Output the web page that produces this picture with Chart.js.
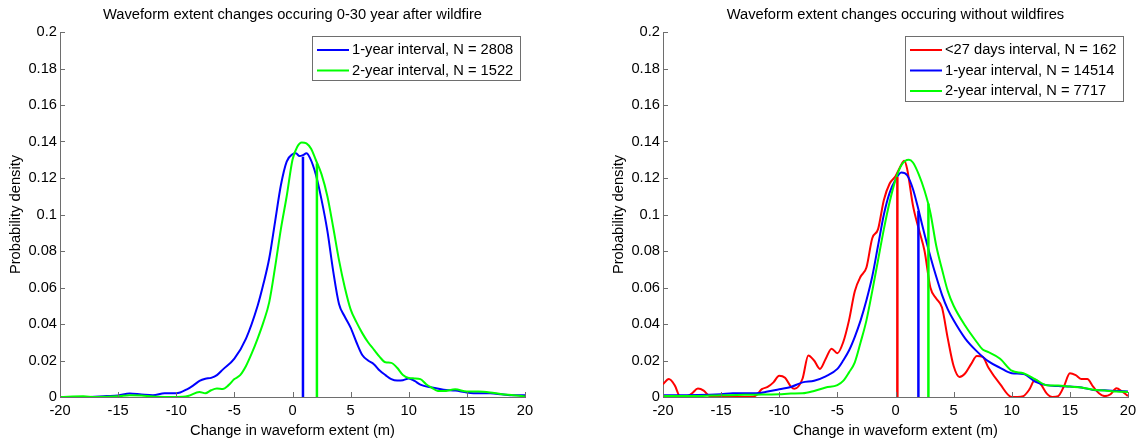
<!DOCTYPE html>
<html>
<head>
<meta charset="utf-8">
<script src="https://cdn.jsdelivr.net/npm/chart.js@4.4.1/dist/chart.umd.min.js"></script>
<style>
body { margin: 0; background: #fff; width: 1142px; height: 441px; overflow: hidden; position: relative; }
canvas { position: absolute; top: 0; }
#left { left: 0; }
#right { left: 603px; }
</style>
</head>
<body>
<canvas id="left" width="590" height="441"></canvas>
<canvas id="right" width="539" height="441"></canvas>
<script>
// axis ticks
var xTicks = [-20, -15, -10, -5, 0, 5, 10, 15, 20];
var yTicks = [0, 0.02, 0.04, 0.06, 0.08, 0.1, 0.12, 0.14, 0.16, 0.18, 0.2];

// left panel: after wildfire
var fireBlueX = [-20,-18,-16,-15,-14,-13,-12,-11,-10,-9,-8.5,-8,-7.5,-7,-6.5,-6,-5,-4,-3,-2.5,-2,-1.5,-1,-0.5,0,0.3,0.6,0.9,1.2,1.5,2,2.5,3,3.5,4,4.5,5,5.5,6,6.5,7,7.5,8,8.5,9,9.5,10,10.5,11,12,13,14,15,16,17,18,19,20];
var fireBlueY = [0,0,0.0005,0.0008,0.0019,0.0014,0.001,0.002,0.002,0.0045,0.0065,0.0088,0.01,0.0105,0.012,0.015,0.021,0.032,0.05,0.062,0.076,0.096,0.116,0.129,0.133,0.1335,0.132,0.1325,0.1335,0.131,0.122,0.108,0.091,0.069,0.051,0.044,0.038,0.03,0.023,0.02,0.018,0.0145,0.012,0.0098,0.009,0.0092,0.0102,0.0088,0.0068,0.0052,0.004,0.0035,0.0025,0.002,0.002,0.0015,0.001,0.001];
var fireGreenX = [-20,-18,-17,-15,-14,-13,-12,-10,-9,-8,-7.5,-7,-6.5,-6,-5.5,-5,-4.5,-4,-3.5,-3,-2.5,-2,-1.5,-1,-0.5,0,0.4,0.8,1.2,1.6,2,2.5,3,3.5,4,4.5,5,5.5,6,6.5,7,7.5,8,8.5,9,9.5,10,10.5,11,11.5,12,12.5,13,14,15,16,17,18,19,20];
var fireGreenY = [0,0.0004,0,0.0004,0.001,0.0008,0.0003,0,0.0005,0.0028,0.002,0.0037,0.0046,0.0044,0.0065,0.0098,0.012,0.017,0.024,0.032,0.041,0.052,0.071,0.092,0.11,0.13,0.137,0.1395,0.139,0.136,0.13,0.122,0.11,0.093,0.075,0.06,0.048,0.041,0.035,0.03,0.026,0.022,0.019,0.0187,0.016,0.012,0.0104,0.0102,0.0098,0.007,0.005,0.0033,0.0033,0.0042,0.003,0.003,0.0025,0.0015,0.001,0.0003];
var fireMedX = [0.9, 2.1];
var fireMedY = [0.1317, 0.128];

// right panel: no wildfire
var noRedX = [-20,-19.5,-19,-18.5,-18,-17.5,-17,-16.5,-16,-15,-14,-13,-12.5,-12,-11.5,-11,-10.5,-10,-9.5,-9,-8.7,-8,-7.5,-7,-6.5,-6,-5.5,-5,-4.5,-4,-3.5,-3,-2.5,-2,-1.5,-1,-0.5,0,0.4,0.75,1,1.5,2,2.5,3,3.5,4,4.5,5,5.5,6,6.5,7,7.5,8,9,10,10.5,11,11.5,12,12.5,13,13.5,14,14.5,15,15.5,16,16.5,17,17.5,18,18.5,19,19.5,20];
var noRedY = [0.007,0.0098,0.0065,0,0,0.002,0.0046,0.0035,0.0005,0,0,0,0,0.0008,0.0043,0.0055,0.008,0.0117,0.0105,0.0057,0.0045,0.01,0.0228,0.02,0.0154,0.021,0.0265,0.024,0.03,0.042,0.058,0.066,0.071,0.087,0.092,0.108,0.117,0.121,0.126,0.1295,0.125,0.105,0.092,0.08,0.06,0.054,0.049,0.032,0.017,0.011,0.013,0.018,0.0225,0.022,0.016,0.007,0,0,0.0005,0.004,0.0094,0.007,0.002,0,0.0005,0.006,0.013,0.012,0.0098,0.0098,0.0057,0.002,0.0005,0.0015,0.0048,0.003,0.0005];
var noBlueX = [-20,-18,-16,-15,-14,-13,-12,-11,-10,-9,-8,-7,-6,-5,-4.5,-4,-3.5,-3,-2.5,-2,-1.5,-1,-0.5,0,0.5,1,1.5,2,2.5,3,3.5,4,4.5,5,6,7,8,9,10,11,12,13,14,15,16,17,18,19,20];
var noBlueY = [0.001,0.001,0.0012,0.0015,0.002,0.002,0.002,0.003,0.0043,0.0055,0.008,0.0089,0.0113,0.0154,0.02,0.0255,0.033,0.042,0.053,0.066,0.083,0.1,0.112,0.119,0.123,0.1215,0.114,0.102,0.089,0.077,0.066,0.056,0.048,0.042,0.032,0.025,0.0195,0.016,0.013,0.0126,0.0085,0.0065,0.006,0.0057,0.0052,0.0039,0.0037,0.0033,0.003];
var noGreenX = [-20,-17,-15,-13,-12,-11,-10,-9,-8,-7,-6,-5,-4.5,-4,-3.5,-3,-2.5,-2,-1.5,-1,-0.5,0,0.5,1.15,1.5,2,2.5,3,3.5,4,4.5,5,6,7,7.5,8,9,10,11,12,13,14,15,16,17,18,19,20];
var noGreenY = [0.0005,0.0005,0.001,0.0012,0.0013,0.0014,0.0015,0.0019,0.002,0.0033,0.0052,0.0065,0.0088,0.0135,0.019,0.03,0.042,0.058,0.075,0.092,0.107,0.119,0.127,0.13,0.1285,0.122,0.113,0.101,0.083,0.07,0.058,0.05,0.039,0.03,0.026,0.0246,0.021,0.0144,0.013,0.0098,0.0065,0.0063,0.0057,0.0052,0.004,0.0036,0.003,0.0028];
var noMedX = [0.16, 1.97, 2.83];
var noMedY = [0.1205, 0.102, 0.106];

var FONT = '"Liberation Sans", Arial, Helvetica, sans-serif';
var FSIZE = 14.7;
var AXIS = '#6e6e6e';
var RED = '#ff0000', BLUE = '#0000ff', GREEN = '#00ff00';

function pts(xs, ys) {
    return xs.map(function(x, i) { return {x: x, y: ys[i]}; });
}
function curve(label, color, xs, ys) {
    return {label: label, data: pts(xs, ys), borderColor: color, borderWidth: 2, cubicInterpolationMode: 'monotone'};
}
function median(color, x, top) {
    return {data: [{x: x, y: 0}, {x: x, y: top}], borderColor: color, borderWidth: 2.5, tension: 0};
}

// matlab style: inward ticks, title over the axes, boxed legend in the corner
var matlabLook = {
    id: 'matlabLook',
    afterDraw: function(chart, args, opts) {
        var ctx = chart.ctx, a = chart.chartArea;
        var sx = chart.scales.x, sy = chart.scales.y;
        ctx.save();
        ctx.strokeStyle = AXIS;
        ctx.lineWidth = 1;
        ctx.beginPath();
        sx.ticks.forEach(function(t) {
            var px = Math.round(sx.getPixelForValue(t.value)) + 0.5;
            ctx.moveTo(px, a.bottom); ctx.lineTo(px, a.bottom - 5);
        });
        sy.ticks.forEach(function(t) {
            var py = Math.round(sy.getPixelForValue(t.value)) + 0.5;
            ctx.moveTo(a.left, py); ctx.lineTo(a.left + 5, py);
        });
        ctx.stroke();

        ctx.font = FSIZE + 'px ' + FONT;
        ctx.fillStyle = '#000';
        ctx.textAlign = 'center';
        ctx.textBaseline = 'middle';
        ctx.fillText(opts.title, (a.left + a.right) / 2, 15);

        var items = chart.data.datasets.filter(function(d) { return d.label; });
        var tw = Math.max.apply(null, items.map(function(d) { return ctx.measureText(d.label).width; }));
        var right = a.right - 5, top = a.top + 4;
        var w = Math.round(tw + 47), h = Math.round(items.length * 20.5 + 3);
        var left = Math.round(right - w);
        ctx.fillStyle = '#fff';
        ctx.fillRect(left, top, w, h);
        ctx.strokeRect(left + 0.5, top + 0.5, w, h);
        items.forEach(function(d, i) {
            var cy = top + 14 + i * 20.5;
            ctx.strokeStyle = d.borderColor;
            ctx.lineWidth = 2;
            ctx.beginPath(); ctx.moveTo(left + 5, cy); ctx.lineTo(left + 37, cy); ctx.stroke();
            ctx.fillStyle = '#000';
            ctx.textAlign = 'left';
            ctx.fillText(d.label, left + 40, cy);
        });
        ctx.restore();
    }
};

function makeChart(id, title, datasets) {
    var canvas = document.getElementById(id);
    datasets.forEach(function(d, i) { d.order = -i; }); // later series on top, like matlab
    var font = {family: FONT, size: FSIZE};
    return new Chart(canvas, {
        type: 'line',
        data: {datasets: datasets},
        options: {
            responsive: false,
            animation: false,
            devicePixelRatio: 1,
            layout: {padding: {left: 0, top: 32, right: canvas.width - 525, bottom: 0}},
            elements: {point: {radius: 0}},
            plugins: {legend: {display: false}, tooltip: {enabled: false}, matlabLook: {title: title}},
            scales: {
                x: {
                    type: 'linear', min: -20, max: 20,
                    afterBuildTicks: function(s) { s.ticks = xTicks.map(function(v) { return {value: v}; }); },
                    afterFit: function(s) { s.height = 44; },
                    grid: {drawOnChartArea: false, drawTicks: false},
                    border: {color: AXIS},
                    ticks: {padding: 5, color: '#000', font: font, maxRotation: 0, autoSkip: false,
                        callback: function(v) { return String(v); }},
                    title: {display: true, text: 'Change in waveform extent (m)', color: '#000', font: font, padding: {top: 0, bottom: 1}}
                },
                y: {
                    type: 'linear', min: 0, max: 0.2,
                    afterBuildTicks: function(s) { s.ticks = yTicks.map(function(v) { return {value: v}; }); },
                    afterFit: function(s) { s.width = 60; },
                    grid: {drawOnChartArea: false, drawTicks: false},
                    border: {color: AXIS},
                    ticks: {padding: 3, color: '#000', font: font, autoSkip: false,
                        callback: function(v) { return String(v); }},
                    title: {display: true, text: 'Probability density', color: '#000', font: font, padding: {top: 7, bottom: 0}}
                }
            }
        },
        plugins: [matlabLook]
    });
}

makeChart('left', 'Waveform extent changes occuring 0-30 year after wildfire', [
    curve('1-year interval, N = 2808', BLUE, fireBlueX, fireBlueY),
    curve('2-year interval, N = 1522', GREEN, fireGreenX, fireGreenY),
    median(BLUE, fireMedX[0], fireMedY[0]),
    median(GREEN, fireMedX[1], fireMedY[1])
]);

makeChart('right', 'Waveform extent changes occuring without wildfires', [
    curve('<27 days interval, N = 162', RED, noRedX, noRedY),
    curve('1-year interval, N = 14514', BLUE, noBlueX, noBlueY),
    curve('2-year interval, N = 7717', GREEN, noGreenX, noGreenY),
    median(RED, noMedX[0], noMedY[0]),
    median(BLUE, noMedX[1], noMedY[1]),
    median(GREEN, noMedX[2], noMedY[2])
]);
</script>
</body>
</html>
